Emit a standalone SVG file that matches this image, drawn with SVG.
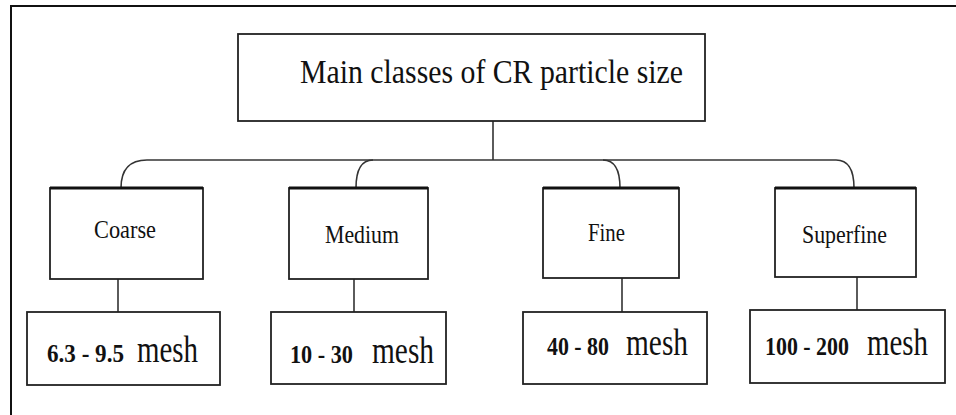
<svg xmlns="http://www.w3.org/2000/svg" width="956" height="415" viewBox="0 0 956 415">
<style>
.box{fill:#fff;stroke:#222;stroke-width:1.8}
.top{stroke:#111;stroke-width:3.2}
.con{fill:none;stroke:#333;stroke-width:1.6}
.frame{stroke:#111;stroke-width:2;fill:none}
.title{font-size:34px}
.cls{font-size:26px}
.num{font-size:26px;font-weight:bold}
.mesh{font-size:37px}
</style>
<rect width="956" height="415" fill="#fff"/>
<path class="frame" d="M11,415 V6 H956"/>
<g id="connectors">
<line class="con" x1="493" y1="121" x2="493" y2="160"/>
<line class="con" x1="147" y1="160" x2="836" y2="160"/>
<path class="con" d="M147,160 C128,160 121,172 121,188"/>
<path class="con" d="M373,160 C360,160 356,172 356,188"/>
<path class="con" d="M603,160 C616,160 620,172 620,188"/>
<path class="con" d="M836,160 C849,160 854,172 854,188"/>
<line class="con" x1="118" y1="279" x2="118" y2="312"/>
<line class="con" x1="354" y1="279" x2="354" y2="312"/>
<line class="con" x1="622" y1="278" x2="622" y2="312"/>
<line class="con" x1="857" y1="277" x2="857" y2="310"/>
</g>
<g font-family="'Liberation Serif', 'DejaVu Serif', serif" fill="#111">
<g id="main">
<rect class="box" x="238" y="34" width="467" height="87"/>
<text class="title" x="300" y="83" textLength="383" lengthAdjust="spacingAndGlyphs">Main classes of CR particle size</text>
</g>
<g id="coarse">
<rect class="box" x="50" y="188" width="153" height="91"/>
<line class="top" x1="50" y1="188" x2="203" y2="188"/>
<text class="cls" x="94" y="238" textLength="62" lengthAdjust="spacingAndGlyphs">Coarse</text>
</g>
<g id="medium">
<rect class="box" x="289" y="188" width="139" height="91"/>
<line class="top" x1="289" y1="188" x2="428" y2="188"/>
<text class="cls" x="325" y="243" textLength="74" lengthAdjust="spacingAndGlyphs">Medium</text>
</g>
<g id="fine">
<rect class="box" x="543" y="188" width="136" height="90"/>
<line class="top" x1="543" y1="188" x2="679" y2="188"/>
<text class="cls" x="588" y="241" textLength="37" lengthAdjust="spacingAndGlyphs">Fine</text>
</g>
<g id="superfine">
<rect class="box" x="775" y="188" width="141" height="89"/>
<line class="top" x1="775" y1="188" x2="916" y2="188"/>
<text class="cls" x="802" y="243" textLength="85" lengthAdjust="spacingAndGlyphs">Superfine</text>
</g>
<g id="coarse-range">
<rect class="box" x="27" y="312" width="193" height="73"/>
<text class="num" x="47" y="362" textLength="77" lengthAdjust="spacingAndGlyphs">6.3 - 9.5</text>
<text class="mesh" x="137" y="362" textLength="61" lengthAdjust="spacingAndGlyphs">mesh</text>
</g>
<g id="medium-range">
<rect class="box" x="271" y="312" width="175" height="72"/>
<text class="num" x="290" y="363" textLength="63" lengthAdjust="spacingAndGlyphs">10 - 30</text>
<text class="mesh" x="372" y="363" textLength="62" lengthAdjust="spacingAndGlyphs">mesh</text>
</g>
<g id="fine-range">
<rect class="box" x="523" y="312" width="184" height="72"/>
<text class="num" x="547" y="355" textLength="62" lengthAdjust="spacingAndGlyphs">40 - 80</text>
<text class="mesh" x="626" y="355" textLength="62" lengthAdjust="spacingAndGlyphs">mesh</text>
</g>
<g id="superfine-range">
<rect class="box" x="750" y="310" width="195" height="73"/>
<text class="num" x="765" y="355" textLength="84" lengthAdjust="spacingAndGlyphs">100 - 200</text>
<text class="mesh" x="867" y="355" textLength="61" lengthAdjust="spacingAndGlyphs">mesh</text>
</g>
</g>
</svg>
